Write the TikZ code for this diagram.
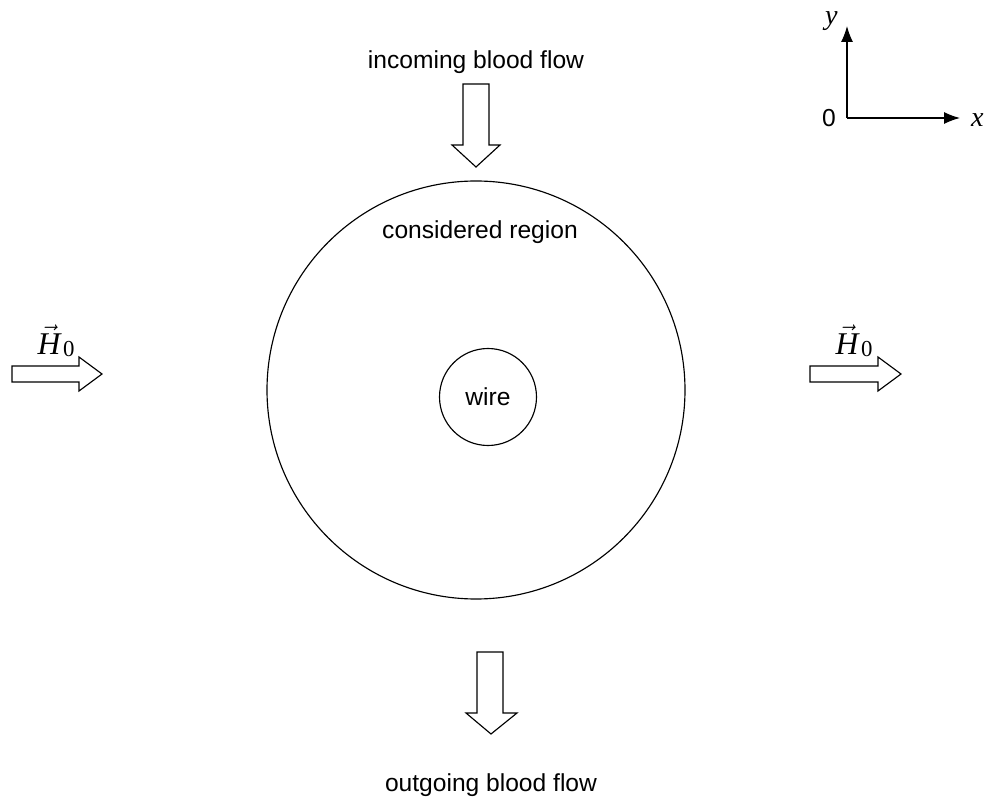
\documentclass[tikz,border=0pt]{standalone}
\usepackage{amsmath}
\usepackage{fontspec}
\setmainfont{Liberation Sans}
\newfontfamily\serif{Liberation Serif}
\usetikzlibrary{arrows.meta}
\usetikzlibrary{positioning}

\begin{document}
\begin{tikzpicture}[
x=0.02cm, y=-0.02cm,
every node/.style={font=\fontsize{14}{16}\selectfont, inner sep=0},
every path/.style={line width=0.65pt},
blockarrow/.style={draw=black, fill=white, line join=miter},
axis/.style={-{Latex[length=3.2mm, width=2.4mm]}},
mathlabel/.style={font=\fontsize{16}{18}\selectfont\serif\itshape}
]
\useasboundingbox (0,0) rectangle (985,804);
% region and wire
\draw (476,390) circle [radius=209];
\node[circle, draw, minimum size=97*0.02cm] (wire) at (488,397) {wire};
\node (region) at (480,232) {considered region};
% blood flow
\node (inflow) at (476,62) {incoming blood flow};
\node (outflow) at (491,785) {outgoing blood flow};
\draw[blockarrow] (463,84) -- (489,84) -- (489,145) -- (500,145) -- (476,167)
  -- (452,145) -- (463,145) -- cycle;
\draw[blockarrow] (477,652) -- (503,652) -- (503,713) -- (517,713) -- (491,734)
  -- (466,713) -- (477,713) -- cycle;
% applied field
\draw[blockarrow] (12,366) -- (79,366) -- (79,357) -- (102,374) -- (79,391)
  -- (79,382) -- (12,382) -- cycle;
\draw[blockarrow] (810,366) -- (878,366) -- (878,357) -- (901,374) -- (878,391)
  -- (878,382) -- (810,382) -- cycle;
\node[mathlabel] (hleft) at (56,341) {$\vec{\text{\fontsize{18}{20}\serif\itshape H}}$\kern1.5pt\raisebox{-1.5pt}{\upshape\fontsize{13}{14}\selectfont 0}};
\node[mathlabel] (hright) at (854,341) {$\vec{\text{\fontsize{18}{20}\serif\itshape H}}$\kern1.5pt\raisebox{-1.5pt}{\upshape\fontsize{13}{14}\selectfont 0}};
% axes
\coordinate (o) at (847,118);
\coordinate (xend) at (960,118);
\coordinate (yend) at (847,26);
\draw[axis] (o) -- (xend);
\draw[axis] (o) -- (yend);
\node[left=6pt of o] (zero) {0};
\node[mathlabel, right=6pt of xend, yshift=-1pt] (xlab) {x};
\node[mathlabel, left=5pt of yend, yshift=3pt] (ylab) {y};
\end{tikzpicture}
\end{document}
